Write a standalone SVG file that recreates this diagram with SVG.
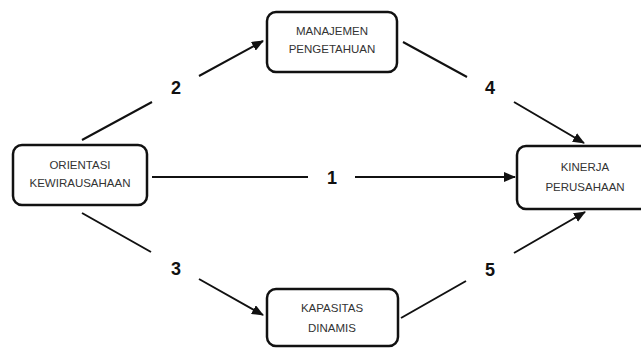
<svg xmlns="http://www.w3.org/2000/svg" width="641" height="348" viewBox="0 0 641 348">
<style>
.box{fill:#fff;stroke:#111;stroke-width:2.5}
.t{font-family:"Liberation Sans",Arial,sans-serif;font-size:11.5px;fill:#333;text-anchor:middle}
.n{font-family:"Liberation Sans",Arial,sans-serif;font-size:18px;font-weight:bold;fill:#111;text-anchor:middle}
.c{fill:none;stroke:#111;stroke-width:2}
</style>
<defs>
<marker id="ah" markerUnits="userSpaceOnUse" markerWidth="12" markerHeight="10" refX="11" refY="5" orient="auto">
<path d="M0,0 L12,5 L0,10 Z" fill="#111"/>
</marker>
</defs>
<rect width="641" height="348" fill="#fff"/>
<g id="connectors">
<path class="c" d="M152,177 L308,177 M355,177 L515,177" marker-end="url(#ah)"/>
<path class="c" d="M82,140 L152,102 M199,76 L263,41" marker-end="url(#ah)"/>
<path class="c" d="M82,213 L151,252 M199,279 L263,315" marker-end="url(#ah)"/>
<path class="c" d="M403,42 L467,77 M514,102 L584,143" marker-end="url(#ah)"/>
<path class="c" d="M401,318 L466,281 M514,253 L585,212" marker-end="url(#ah)"/>
<text class="n" x="332" y="184">1</text>
<text class="n" x="176" y="94">2</text>
<text class="n" x="176" y="275">3</text>
<text class="n" x="490" y="94">4</text>
<text class="n" x="490" y="276">5</text>
</g>
<g id="orientasi">
<rect class="box" x="13" y="145" width="134" height="60" rx="9"/>
<text class="t" x="80" y="169">ORIENTASI</text>
<text class="t" x="80" y="186.5">KEWIRAUSAHAAN</text>
</g>
<g id="manajemen">
<rect class="box" x="267" y="12" width="130" height="60" rx="9"/>
<text class="t" x="332" y="35">MANAJEMEN</text>
<text class="t" x="332" y="53">PENGETAHUAN</text>
</g>
<g id="kapasitas">
<rect class="box" x="267" y="289" width="131" height="57" rx="9"/>
<text class="t" x="332" y="312">KAPASITAS</text>
<text class="t" x="332" y="331.5">DINAMIS</text>
</g>
<g id="kinerja">
<rect class="box" x="517" y="146" width="140" height="63" rx="9"/>
<text class="t" x="585" y="170.5">KINERJA</text>
<text class="t" x="585" y="190.5">PERUSAHAAN</text>
</g>
</svg>
